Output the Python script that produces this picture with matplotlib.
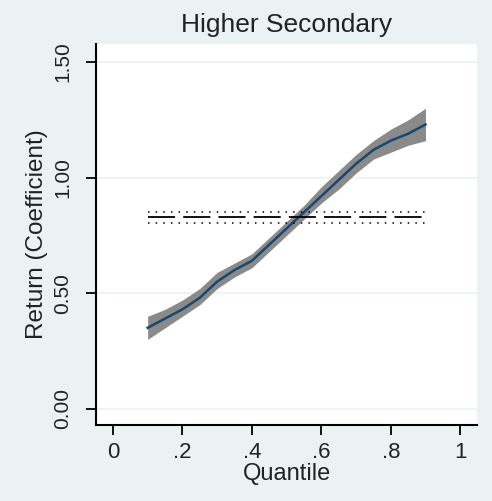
import matplotlib.pyplot as plt

# quantile regression estimates
quantiles = [0.10, 0.15, 0.20, 0.25, 0.30, 0.35, 0.40, 0.45, 0.50,
             0.55, 0.60, 0.65, 0.70, 0.75, 0.80, 0.85, 0.90]
coef = [0.35, 0.39, 0.43, 0.48, 0.55, 0.60, 0.64, 0.71, 0.78,
        0.85, 0.92, 0.99, 1.06, 1.12, 1.16, 1.19, 1.23]
ci_low = [0.30, 0.35, 0.40, 0.45, 0.52, 0.57, 0.61, 0.68, 0.75,
          0.82, 0.89, 0.95, 1.02, 1.08, 1.11, 1.14, 1.16]
ci_high = [0.40, 0.43, 0.47, 0.52, 0.59, 0.63, 0.67, 0.74, 0.81,
           0.88, 0.96, 1.03, 1.10, 1.16, 1.21, 1.25, 1.30]

# OLS estimate and its confidence interval
ols_x = [0.10, 0.90]
ols = 0.828
ols_low = 0.804
ols_high = 0.852

yticks = [0.0, 0.5, 1.0, 1.5]
ytick_labels = ["0.00", "0.50", "1.00", "1.50"]
xticks = [0, 0.2, 0.4, 0.6, 0.8, 1.0]
xtick_labels = ["0", ".2", ".4", ".6", ".8", "1"]

bg = '#eaf2f3'
txt = '#222222'
plt.rcParams['font.family'] = ['Liberation Sans', 'DejaVu Sans']

fig = plt.figure(figsize=(4.92, 5.01), dpi=100, facecolor=bg)
ax = fig.add_axes([0.195, 0.152, 0.775, 0.760])

for y in yticks:
    ax.axhline(y, color=bg, lw=1.2, zorder=0)

ax.fill_between(quantiles, ci_low, ci_high, color='#8a8a8a', lw=0, zorder=2)
ax.plot(quantiles, coef, color='#1a476f', lw=1.8, zorder=3)

ax.plot(ols_x, [ols, ols], color='black', lw=1.3, ls=(0, (15, 4.5)), zorder=4)
ax.plot(ols_x, [ols_low, ols_low], color='black', lw=1.1, ls=(0, (1, 4)), zorder=4)
ax.plot(ols_x, [ols_high, ols_high], color='black', lw=1.1, ls=(0, (1, 4)), zorder=4)

ax.set_xlim(-0.049, 1.049)
ax.set_ylim(-0.07, 1.578)
ax.set_yticks(yticks)
ax.set_yticklabels(ytick_labels, rotation=90, va='center')
ax.set_xticks(xticks)
ax.set_xticklabels(xtick_labels)
ax.tick_params(axis='x', labelsize=16, length=7, width=1.3, pad=5, labelcolor=txt)
ax.tick_params(axis='y', labelsize=15, length=7, width=1.3, pad=10, labelcolor=txt)

for s in ['top', 'right']:
    ax.spines[s].set_visible(False)
for s in ['left', 'bottom']:
    ax.spines[s].set_linewidth(1.5)

ax.set_xlabel('Quantile', fontsize=17, color=txt, labelpad=0)
ax.set_ylabel('Return (Coefficient)', fontsize=17.5, color=txt, labelpad=4)
ax.set_title('Higher Secondary', fontsize=19, color=txt, pad=9)

fig.savefig('out.png', dpi=100, facecolor=bg)
